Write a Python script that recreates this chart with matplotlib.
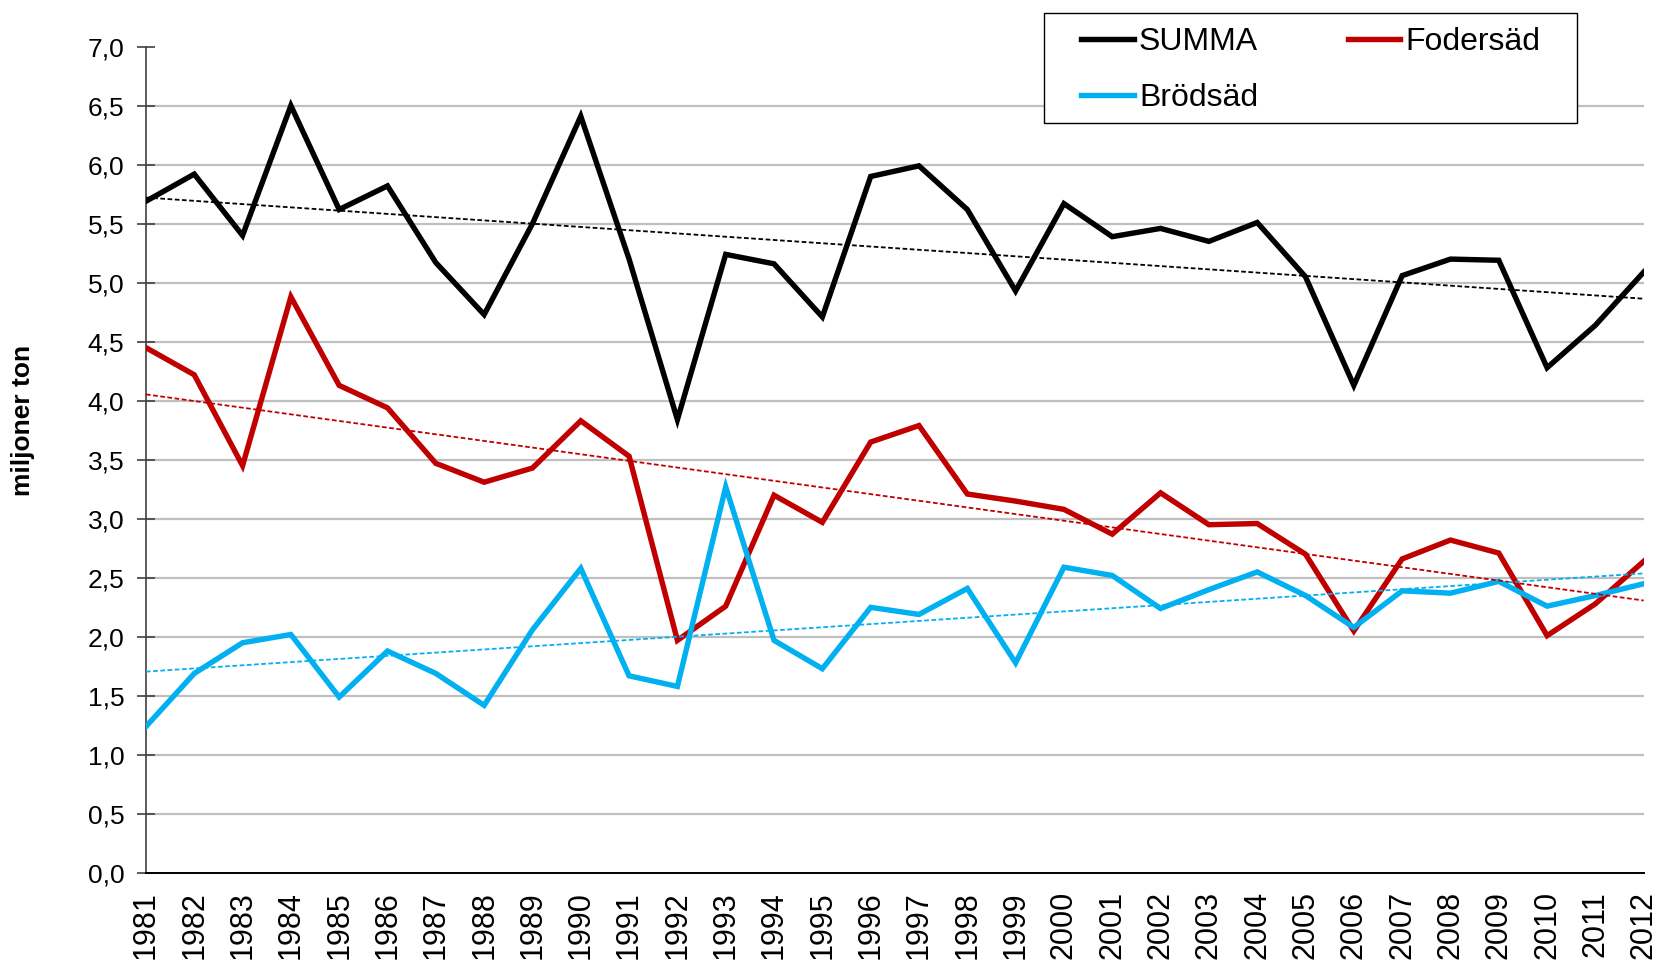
#!/usr/bin/env python3
"""Spannmålsskörd 1981-2012: summa, fodersäd och brödsäd med linjära trender."""

import matplotlib

matplotlib.use("Agg")
import matplotlib.pyplot as plt
from matplotlib.patches import Rectangle
import numpy as np

plt.rcParams["font.family"] = ["Liberation Sans", "DejaVu Sans"]

years = list(range(1981, 2013))

summa = [5.69, 5.92, 5.40, 6.50, 5.62, 5.82, 5.17, 4.73, 5.50, 6.41,
         5.20, 3.84, 5.24, 5.16, 4.71, 5.90, 5.99, 5.62, 4.93, 5.67,
         5.39, 5.46, 5.35, 5.51, 5.05, 4.13, 5.06, 5.20, 5.19, 4.28,
         4.64, 5.09]
fodersad = [4.45, 4.22, 3.45, 4.88, 4.13, 3.94, 3.47, 3.31, 3.43, 3.83,
            3.53, 1.97, 2.26, 3.20, 2.97, 3.65, 3.79, 3.21, 3.15, 3.08,
            2.87, 3.22, 2.95, 2.96, 2.70, 2.05, 2.66, 2.82, 2.71, 2.01,
            2.28, 2.64]
brodsad = [1.24, 1.69, 1.95, 2.02, 1.49, 1.88, 1.69, 1.42, 2.06, 2.58,
           1.67, 1.58, 3.27, 1.97, 1.73, 2.25, 2.19, 2.41, 1.78, 2.59,
           2.52, 2.24, 2.40, 2.55, 2.35, 2.08, 2.39, 2.37, 2.47, 2.26,
           2.35, 2.45]

y_ticks = [0.0, 0.5, 1.0, 1.5, 2.0, 2.5, 3.0, 3.5, 4.0, 4.5, 5.0, 5.5, 6.0, 6.5, 7.0]

BLACK = "#000000"
RED = "#C00000"
BLUE = "#00B0F0"

fig = plt.figure(figsize=(16.62, 9.63), dpi=100)
ax = fig.add_axes([0.0878, 0.0935, 0.9012, 0.8581])

x = np.arange(len(years))

# grid lines (not at 0 and 7)
for v in y_ticks[1:-1]:
    ax.axhline(v, color="#BFBFBF", linewidth=1.6, zorder=0)

series = [
    ("SUMMA", summa, BLACK),
    ("Fodersäd", fodersad, RED),
    ("Brödsäd", brodsad, BLUE),
]
handles = {}
for label, vals, color in series:
    (h,) = ax.plot(x, vals, color=color, linewidth=3.9, solid_joinstyle="miter", zorder=3, label=label)
    handles[label] = h
    k, m = np.polyfit(x, vals, 1)
    ax.plot(x, k * x + m, color=color, linewidth=1.3, linestyle=(0, (2.6, 1.4)), zorder=4)

ax.set_xlim(0, len(years) - 1)
ax.set_ylim(0, 7)

ax.set_yticks(y_ticks)
ax.set_yticklabels([f"{v:.1f}".replace(".", ",") for v in y_ticks], fontsize=19)
ax.tick_params(axis="y", direction="inout", length=13, width=1.2, color="#404040", pad=9)

ax.set_xticks(x)
ax.set_xticklabels([str(y) for y in years], rotation=90, fontsize=22)
ax.tick_params(axis="x", which="major", length=0, pad=13)
ax.set_xticks(x[::2], minor=True)
ax.tick_params(axis="x", which="minor", direction="inout", length=16, width=1.0, color="#404040")

for side in ("top", "right"):
    ax.spines[side].set_visible(False)
ax.spines["left"].set_color("#404040")
ax.spines["left"].set_linewidth(1.2)
ax.spines["bottom"].set_color(BLACK)
ax.spines["bottom"].set_linewidth(1.4)

fig.text(0.014, 0.563, "miljoner ton", rotation=90, fontsize=19, fontweight="bold",
         ha="center", va="center")

# legend box drawn separately so the padding can differ from the legend's own
ax.add_patch(Rectangle((0.628, 0.8723), 0.3207, 0.1145, transform=fig.transFigure,
                       facecolor="white", edgecolor=BLACK, linewidth=1.0,
                       clip_on=False, zorder=9))
leg = ax.legend(
    [handles["SUMMA"], handles["Brödsäd"], handles["Fodersäd"]],
    ["SUMMA", "Brödsäd", "Fodersäd"],
    ncol=2,
    loc="upper left",
    bbox_to_anchor=(0.6505, 0.9715),
    bbox_transform=fig.transFigure,
    fontsize=23,
    frameon=False,
    handlelength=1.65,
    handletextpad=0.16,
    columnspacing=2.8,
    labelspacing=0.8,
    borderpad=0,
    borderaxespad=0,
)
leg.set_zorder(10)

fig.savefig("out.png", dpi=100)
